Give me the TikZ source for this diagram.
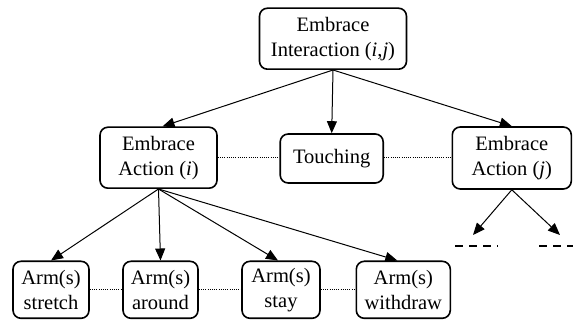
\documentclass[tikz,border=0pt]{standalone}
\usepackage{fontspec}
\setmainfont{Liberation Serif}
\usetikzlibrary{arrows.meta}
\begin{document}
\begin{tikzpicture}[x=1pt,y=-1pt,
  box/.style={draw,line width=1.6pt,rounded corners=8pt,align=center,
    font=\fontsize{20.5}{25}\selectfont,inner sep=0pt},
  arr/.style={line width=1pt,-{Triangle[length=12pt,width=10pt]}},
  dots/.style={line width=1.2pt,dash pattern=on 1pt off 1.2pt},
  dashline/.style={line width=1.8pt,dash pattern=on 8pt off 6pt}]
\useasboundingbox (0,0) rectangle (573,320);
\node[box,minimum width=147pt,minimum height=61pt] (top) at (333,38.7) {Embrace\\Interaction (\textit{i},\textit{j})};
\node[box,minimum width=117pt,minimum height=61pt] (ai) at (158.5,157.7) {Embrace\\Action (\textit{i})};
\node[box,minimum width=103pt,minimum height=49pt] (touch) at (331.7,158.5) {Touching};
\node[box,minimum width=119pt,minimum height=62pt] (aj) at (511.8,158) {Embrace\\Action (\textit{j})};
\node[box,minimum width=76pt,minimum height=57pt] (s1) at (51,289.8) {Arm(s)\\stretch};
\node[box,minimum width=75pt,minimum height=57pt] (s2) at (160.5,289.8) {Arm(s)\\around};
\node[box,minimum width=78pt,minimum height=57pt] (s3) at (281,289.8) {Arm(s)\\stay};
\node[box,minimum width=94pt,minimum height=57pt] (s4) at (403.3,289.8) {Arm(s)\\withdraw};
\draw[arr] (top.south) -- ([xshift=4pt]ai.north);
\draw[arr] (top.south) -- (touch.north);
\draw[arr] (top.south) -- (aj.north);
\draw[arr] (ai.south) -- (s1.north);
\draw[arr] (ai.south) -- (s2.north);
\draw[arr] (ai.south) -- ([xshift=-3pt]s3.north);
\draw[arr] (ai.south) -- ([xshift=-6pt]s4.north);
\coordinate (e1) at (473,235);
\coordinate (e2) at (560,235);
\draw[arr] (aj.south) -- (e1);
\draw[arr] (aj.south) -- (e2);
\coordinate (d1a) at (455,246);
\coordinate (d1b) at (498,246);
\coordinate (d2a) at (539,246);
\coordinate (d2b) at (573,246);
\draw[dashline] (d1a) -- (d1b);
\draw[dashline] (d2a) -- (d2b);
\draw[dots] (ai.east |- 0,157.7) -- (touch.west |- 0,157.7);
\draw[dots] (touch.east |- 0,157.7) -- (aj.west |- 0,157.7);
\draw[dots] (s1.east) -- (s2.west);
\draw[dots] (s2.east) -- (s3.west);
\draw[dots] (s3.east) -- (s4.west);
\end{tikzpicture}
\end{document}
